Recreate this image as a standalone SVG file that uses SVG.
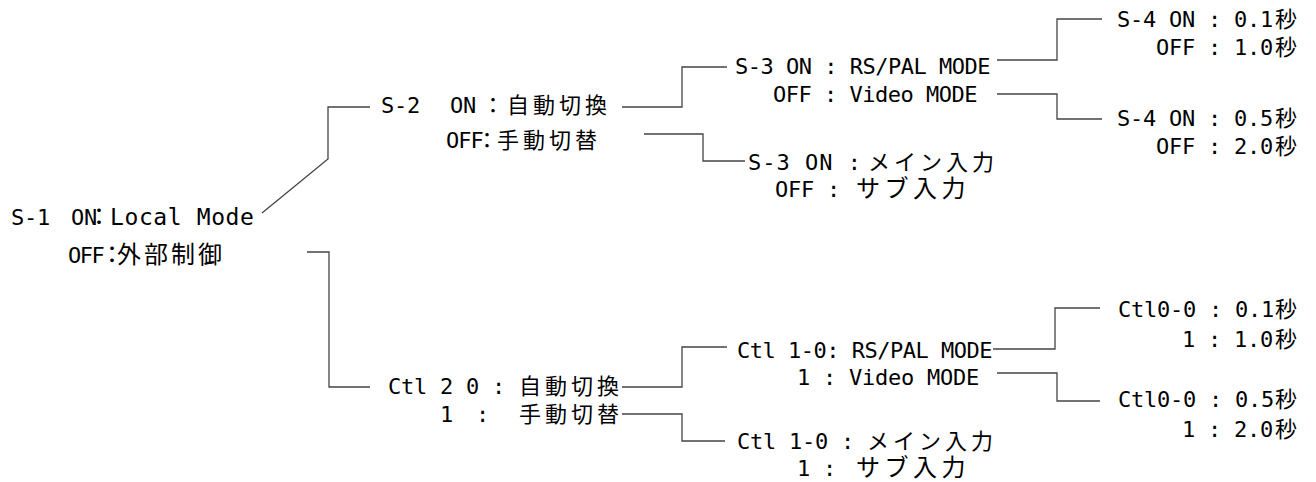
<svg xmlns="http://www.w3.org/2000/svg" width="1316" height="482" viewBox="0 0 1316 482">
<style>
text{font-family:"DejaVu Sans Mono","Noto Sans CJK JP",monospace;font-size:22px;letter-spacing:-0.25px;fill:#000}
.n{letter-spacing:-0.5px}
.j{font-family:"Noto Sans CJK JP",sans-serif;font-size:22px;letter-spacing:4px}
.k{font-family:"Noto Sans CJK JP",sans-serif;font-size:24px;letter-spacing:4.5px}
.b{font-family:"Noto Sans CJK JP",sans-serif;font-size:24px;letter-spacing:3px}
.c{fill:none;stroke:#444;stroke-width:1.3}
</style>
<rect width="1316" height="482" fill="#fff"/>
<g id="connectors">
<polyline class="c" points="262,213 328,159 328,107 370,107"/>
<polyline class="c" points="307,252 329,252 329,387 370,387"/>
<polyline class="c" points="622,107 682,107 682,67 727,67"/>
<polyline class="c" points="644,134 703,134 703,161 745,161"/>
<polyline class="c" points="997,60 1057,60 1057,19 1102,19"/>
<polyline class="c" points="997,94 1057,94 1057,119 1102,119"/>
<polyline class="c" points="622,387 682,387 682,347 727,347"/>
<polyline class="c" points="622,414 682,414 682,441 725,441"/>
<polyline class="c" points="993,349 1055,349 1055,308 1100,308"/>
<polyline class="c" points="997,373 1057,373 1057,401 1100,401"/>
</g>
<g id="s1">
<text y="225"><tspan x="11">S-1</tspan><tspan x="71">ON</tspan><tspan class="b" x="87" style="letter-spacing:-1px">：</tspan><tspan x="110" style="font-size:23px;letter-spacing:0.6px">Local Mode</tspan></text>
<text y="263"><tspan x="68" style="letter-spacing:-1.5px">OFF</tspan><tspan class="b" x="100" style="letter-spacing:-7px">：</tspan><tspan class="b" x="117">外部制御</tspan></text>
</g>
<g id="s2">
<text y="113"><tspan x="381">S-2</tspan><tspan x="450">ON</tspan><tspan class="j" x="482" style="letter-spacing:3px">：</tspan><tspan class="j" x="507">自動切換</tspan></text>
<text y="148"><tspan x="446" style="letter-spacing:-1px">OFF</tspan><tspan class="j" x="476" style="letter-spacing:-1px">：</tspan><tspan class="j" x="497">手動切替</tspan></text>
</g>
<g id="s3a">
<text y="74" class="n" x="735">S-3 ON : RS/PAL MODE</text>
<text y="102" class="n" x="773">OFF : Video MODE</text>
</g>
<g id="s3b">
<text y="170"><tspan x="748" style="letter-spacing:1px">S-3 ON : </tspan><tspan class="j" x="868">メイン入力</tspan></text>
<text y="197"><tspan x="775">OFF : </tspan><tspan class="k" x="856">サブ入力</tspan></text>
</g>
<g id="s4a">
<text y="27"><tspan x="1117">S-4 ON : 0.1</tspan><tspan class="j" x="1275">秒</tspan></text>
<text y="55"><tspan x="1156">OFF : 1.0</tspan><tspan class="j" x="1275">秒</tspan></text>
</g>
<g id="s4b">
<text y="126"><tspan x="1117">S-4 ON : 0.5</tspan><tspan class="j" x="1275">秒</tspan></text>
<text y="154"><tspan x="1156">OFF : 2.0</tspan><tspan class="j" x="1275">秒</tspan></text>
</g>
<g id="ctl2">
<text y="394"><tspan x="388">Ctl 2 0 : </tspan><tspan class="j" x="519">自動切換</tspan></text>
<text y="422"><tspan x="440">1</tspan><tspan x="476">:</tspan><tspan class="j" x="519">手動切替</tspan></text>
</g>
<g id="ctl1a">
<text y="358" class="n" x="737">Ctl 1-0: RS/PAL MODE</text>
<text y="385" x="797">1 : Video MODE</text>
</g>
<g id="ctl1b">
<text y="449"><tspan x="737">Ctl 1-0 : </tspan><tspan class="j" x="867">メイン入力</tspan></text>
<text y="476"><tspan x="797">1 : </tspan><tspan class="k" x="856">サブ入力</tspan></text>
</g>
<g id="ctl0a">
<text y="317"><tspan x="1118">Ctl0-0 : 0.1</tspan><tspan class="j" x="1275">秒</tspan></text>
<text y="347"><tspan x="1182">1 : 1.0</tspan><tspan class="j" x="1275">秒</tspan></text>
</g>
<g id="ctl0b">
<text y="407"><tspan x="1118">Ctl0-0 : 0.5</tspan><tspan class="j" x="1275">秒</tspan></text>
<text y="437"><tspan x="1182">1 : 2.0</tspan><tspan class="j" x="1275">秒</tspan></text>
</g>
</svg>
